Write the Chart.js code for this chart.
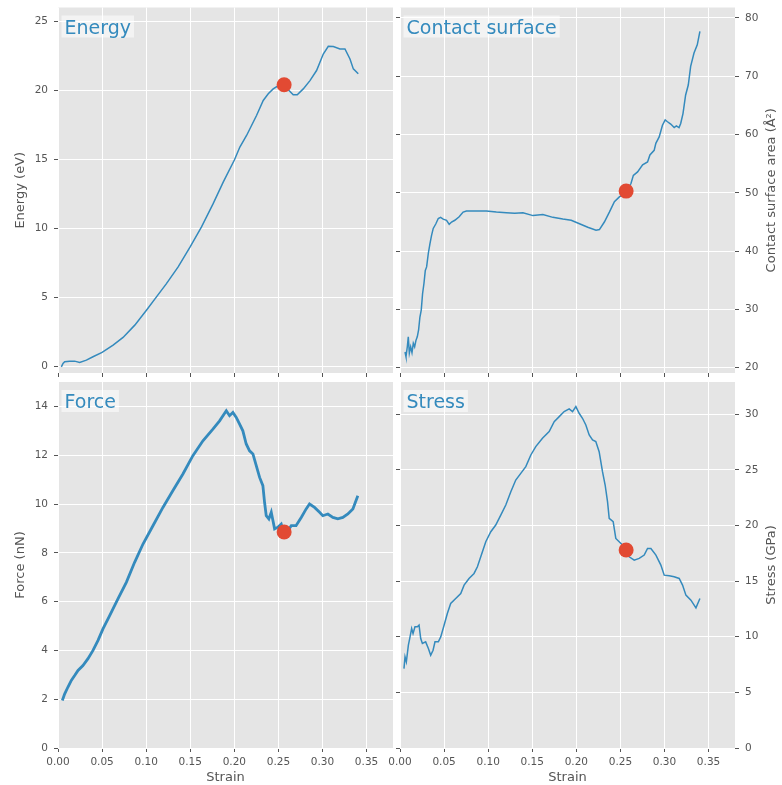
<!DOCTYPE html>
<html>
<head>
<meta charset="utf-8">
<script src="https://cdn.jsdelivr.net/npm/chart.js@4.4.1/dist/chart.umd.min.js"></script>
<style>
  html, body { margin: 0; padding: 0; background: #fff; }
  #wrap { position: relative; width: 782px; height: 785px; }
  #wrap canvas { position: absolute; left: 0; top: 0; }
</style>
</head>
<body>
<div id="wrap">
  <canvas id="cEnergy" width="782" height="785"></canvas>
  <canvas id="cContact" width="782" height="785"></canvas>
  <canvas id="cForce" width="782" height="785"></canvas>
  <canvas id="cStress" width="782" height="785"></canvas>
</div>
<script>
// --- data ---
const energyStrain = [0.0038,0.0057,0.0076,0.0132,0.0189,0.0246,0.0322,0.0397,0.05,0.0625,0.0738,0.0871,0.1003,0.1117,0.123,0.1363,0.1499,0.1628,0.176,0.1874,0.2002,0.2063,0.2139,0.2252,0.2328,0.2385,0.2441,0.2502,0.2555,0.2612,0.2668,0.2714,0.2782,0.2858,0.2933,0.3009,0.3066,0.3123,0.3198,0.3255,0.3312,0.335,0.3406];
const energyValues = [-0.05,0.19,0.31,0.36,0.36,0.27,0.43,0.68,0.99,1.52,2.08,2.97,4.05,5.02,5.98,7.19,8.64,10.09,11.78,13.34,14.96,15.88,16.72,18.17,19.26,19.74,20.10,20.34,20.34,20.03,19.67,19.67,20.10,20.70,21.43,22.63,23.19,23.17,23.00,23.00,22.27,21.55,21.19];

const contactStrain = [0.0057,0.0068,0.0083,0.0094,0.0106,0.0121,0.0136,0.0151,0.0166,0.0181,0.0196,0.0211,0.0226,0.0241,0.0256,0.0272,0.0287,0.0302,0.0321,0.034,0.0358,0.0377,0.0407,0.0434,0.046,0.049,0.0528,0.0558,0.0585,0.0622,0.0671,0.0716,0.0754,0.0867,0.098,0.1093,0.1206,0.1301,0.1395,0.1508,0.1621,0.1734,0.1847,0.1942,0.2036,0.213,0.2224,0.2262,0.2318,0.2375,0.2432,0.2488,0.2555,0.262,0.2647,0.2695,0.2752,0.2808,0.2835,0.2883,0.2902,0.294,0.2977,0.3008,0.3034,0.3071,0.311,0.3135,0.3165,0.3184,0.321,0.324,0.327,0.3297,0.3335,0.3372,0.3402];
const contactValues = [22.7,21.9,23.6,25.3,22.5,23.6,22.6,24.2,23.6,24.7,25.3,26.5,28.7,29.9,32.7,34.5,36.7,37.3,39.6,41.3,42.7,43.9,44.7,45.6,45.8,45.5,45.3,44.6,45.0,45.3,45.9,46.7,46.9,46.9,46.9,46.7,46.6,46.5,46.6,46.1,46.3,45.8,45.5,45.3,44.7,44.1,43.6,43.7,45.0,46.7,48.5,49.3,49.9,51.6,53.0,53.6,54.8,55.3,56.5,57.3,58.5,59.6,61.6,62.5,62.2,61.8,61.2,61.5,61.2,61.9,63.6,66.8,68.5,71.7,74.0,75.4,77.7];

const forceStrain = [0.0049,0.0076,0.0113,0.0151,0.0189,0.0227,0.0283,0.034,0.0397,0.0454,0.051,0.0586,0.068,0.0775,0.0869,0.0964,0.1077,0.119,0.1304,0.1417,0.153,0.1644,0.1757,0.1833,0.1909,0.1946,0.1984,0.2022,0.206,0.2097,0.2135,0.2173,0.2211,0.2249,0.2287,0.2324,0.2343,0.2362,0.2392,0.2419,0.2438,0.2457,0.2494,0.2532,0.256,0.2608,0.2646,0.27,0.2759,0.2815,0.2853,0.291,0.2967,0.3004,0.3061,0.3118,0.3174,0.3231,0.3288,0.3345,0.3401];
const forceValues = [1.95,2.22,2.50,2.77,2.97,3.18,3.38,3.66,4.0,4.41,4.88,5.43,6.11,6.79,7.61,8.36,9.11,9.86,10.55,11.23,11.98,12.59,13.07,13.41,13.82,13.62,13.75,13.55,13.27,13.0,12.46,12.18,12.05,11.57,11.09,10.75,10.07,9.52,9.39,9.66,9.32,8.98,9.05,9.18,8.84,8.91,9.11,9.11,9.45,9.80,10.0,9.86,9.66,9.52,9.59,9.45,9.39,9.45,9.59,9.80,10.34];

const stressStrain = [0.0045,0.0057,0.0072,0.0095,0.011,0.0132,0.0148,0.017,0.0197,0.0216,0.0235,0.0254,0.0291,0.0322,0.0348,0.0375,0.0397,0.0435,0.0462,0.05,0.0537,0.0575,0.0632,0.0689,0.0727,0.0783,0.084,0.0878,0.0935,0.0973,0.103,0.1086,0.1143,0.12,0.1257,0.1313,0.137,0.1427,0.1484,0.154,0.1616,0.1692,0.1749,0.1806,0.1862,0.1919,0.1957,0.1995,0.2032,0.207,0.2108,0.2146,0.2184,0.2221,0.2259,0.2297,0.2327,0.2354,0.2373,0.2418,0.2448,0.2486,0.2524,0.2562,0.26,0.2657,0.2713,0.277,0.2808,0.2846,0.2903,0.2959,0.2997,0.3054,0.311,0.3167,0.3205,0.3243,0.33,0.3357,0.3402];
const stressValues = [7.14,8.19,7.74,9.24,9.84,10.74,10.29,10.89,10.89,11.04,9.84,9.39,9.54,8.94,8.34,8.79,9.54,9.54,9.99,11.04,12.09,12.99,13.44,13.89,14.64,15.24,15.69,16.29,17.64,18.54,19.44,20.04,20.94,21.84,23.04,24.09,24.69,25.29,26.34,27.09,27.84,28.44,29.34,29.79,30.24,30.48,30.24,30.69,30.09,29.64,29.04,28.14,27.69,27.54,26.64,24.84,23.64,22.14,20.64,20.34,18.84,18.54,18.24,17.79,17.19,16.89,17.04,17.34,17.94,17.94,17.34,16.44,15.54,15.48,15.39,15.24,14.64,13.74,13.29,12.6,13.44];

// current frame marker: energy, contact, force, stress
const markerStrain = 0.2565;
const markerValues = [20.4, 50.3, 8.85, 17.8];

// tick labels
const strainTicks = [0, 0.05, 0.10, 0.15, 0.20, 0.25, 0.30, 0.35];
const energyTicks = [0, 5, 10, 15, 20, 25];
const contactTicks = [20, 30, 40, 50, 60, 70, 80];
const forceTicks = [0, 2, 4, 6, 8, 10, 12, 14];
const stressTicks = [0, 5, 10, 15, 20, 25, 30];

const panelTitles = ['Energy', 'Contact surface', 'Force', 'Stress'];
const yTitles = ['Energy (eV)', 'Contact surface area (Å²)', 'Force (nN)', 'Stress (GPa)'];
const xTitle = 'Strain';

// --- style ---
const W = 782, H = 785;
const FONT = '"DejaVu Sans", "Liberation Sans", sans-serif';
const BLUE = '#348ABD';
const RED = '#E24A33';
const GREY = '#555555';

const toPoints = (xs, ys) => xs.map((x, i) => ({ x: x, y: ys[i] }));

// fix a scale's box size so the plot area lands where we want it
const fixSize = size => scale => {
    if (scale.isHorizontal()) scale.height = size; else scale.width = size;
    scale.paddingLeft = scale.paddingRight = scale.paddingTop = scale.paddingBottom = 0;
};
const useTicks = arr => scale => { scale.ticks = arr.map(v => ({ value: v })); };

// grey panel, boxed panel title, right-hand axis title
const panelPlugin = {
    id: 'panel',
    beforeDraw(chart) {
        const { ctx, chartArea: a } = chart;
        ctx.save();
        ctx.fillStyle = '#E5E5E5';
        ctx.fillRect(a.left, a.top, a.right - a.left, a.bottom - a.top);
        ctx.restore();
    },
    afterDraw(chart, args, opts) {
        const { ctx, chartArea: a } = chart;
        ctx.save();
        ctx.font = '19px ' + FONT;
        const tw = ctx.measureText(opts.title).width;
        ctx.fillStyle = 'rgba(255,255,255,0.55)';
        ctx.fillRect(a.left + 3.5, a.top + 8, tw + 6, 22);
        ctx.fillStyle = BLUE;
        ctx.textBaseline = 'alphabetic';
        ctx.fillText(opts.title, a.left + 6.5, a.top + 26);
        if (opts.rightTitle) {
            ctx.translate(772, (a.top + a.bottom) / 2);
            ctx.rotate(-Math.PI / 2);
            ctx.font = '13px ' + FONT;
            ctx.fillStyle = GREY;
            ctx.textAlign = 'center';
            ctx.textBaseline = 'middle';
            ctx.fillText(opts.rightTitle, 0, 0);
        }
        ctx.restore();
    }
};

function makePanel(id, cfg) {
    const [left, top, right, bottom] = cfg.area;
    const onRight = cfg.side === 'right';
    const xBox = cfg.showX ? H - bottom : 5;
    const tickFont = { family: FONT, size: 10.5 };

    const scales = {
        x: {
            type: 'linear',
            min: 0, max: 0.38,
            afterBuildTicks: useTicks(strainTicks),
            afterFit: fixSize(xBox),
            border: { display: false },
            grid: { color: '#FFFFFF', lineWidth: 1, tickColor: GREY, tickLength: 4 },
            ticks: {
                display: cfg.showX, color: GREY, font: tickFont, padding: 4,
                autoSkip: false, maxRotation: 0,
                callback: v => v.toFixed(2)
            },
            title: {
                display: cfg.showX, text: xTitle, color: GREY,
                font: { family: FONT, size: 13, lineHeight: 1 },
                padding: { top: 0, bottom: 1 }
            }
        },
        y: {
            type: 'linear',
            position: onRight ? 'right' : 'left',
            min: cfg.yMin, max: cfg.yMax,
            afterBuildTicks: useTicks(cfg.yTicks),
            afterFit: fixSize(onRight ? W - right : left),
            border: { display: false },
            grid: { color: '#FFFFFF', lineWidth: 1, tickColor: GREY, tickLength: 4 },
            ticks: { color: GREY, font: tickFont, padding: 6, callback: v => String(v) },
            title: {
                display: !onRight, text: cfg.yTitle, color: GREY,
                font: { family: FONT, size: 13, lineHeight: 1 },
                padding: { top: 14, bottom: 0 }
            }
        }
    };
    if (onRight) {
        // tick marks only on the left edge of the right-hand panels
        scales.yL = {
            type: 'linear', position: 'left',
            min: cfg.yMin, max: cfg.yMax,
            afterBuildTicks: useTicks(cfg.yTicks),
            afterFit: fixSize(5),
            border: { display: false },
            grid: { drawOnChartArea: false, tickColor: GREY, tickLength: 4 },
            ticks: { display: false }
        };
    }

    return new Chart(document.getElementById(id), {
        type: 'scatter',
        data: {
            datasets: [
                {
                    data: [{ x: markerStrain, y: cfg.marker }],
                    pointRadius: 7.5, pointBackgroundColor: RED, pointBorderWidth: 0,
                    order: 0
                },
                {
                    data: toPoints(cfg.xs, cfg.ys),
                    showLine: true, borderColor: BLUE, borderWidth: cfg.lineWidth || 1.5,
                    pointRadius: 0, tension: 0,
                    order: 1
                }
            ]
        },
        options: {
            responsive: false,
            animation: false,
            events: [],
            layout: {
                padding: {
                    left: onRight ? left - 5 : 0,
                    right: onRight ? 0 : W - right,
                    top: top,
                    bottom: H - bottom - xBox
                }
            },
            plugins: {
                legend: { display: false },
                tooltip: { enabled: false },
                panel: { title: cfg.title, rightTitle: onRight ? cfg.yTitle : null }
            },
            scales: scales
        },
        plugins: [panelPlugin]
    });
}

makePanel('cEnergy', {
    area: [58, 7, 393, 373], side: 'left', showX: false,
    xs: energyStrain, ys: energyValues, marker: markerValues[0],
    yMin: -0.5, yMax: 26, yTicks: energyTicks,
    title: panelTitles[0], yTitle: yTitles[0]
});
makePanel('cContact', {
    area: [400, 7, 735, 373], side: 'right', showX: false,
    xs: contactStrain, ys: contactValues, marker: markerValues[1],
    yMin: 19.1, yMax: 81.8, yTicks: contactTicks,
    title: panelTitles[1], yTitle: yTitles[1]
});
makePanel('cForce', {
    area: [58, 382, 393, 748], side: 'left', showX: true,
    xs: forceStrain, ys: forceValues, marker: markerValues[2], lineWidth: 2.8,
    yMin: 0, yMax: 15, yTicks: forceTicks,
    title: panelTitles[2], yTitle: yTitles[2]
});
makePanel('cStress', {
    area: [400, 382, 735, 748], side: 'right', showX: true,
    xs: stressStrain, ys: stressValues, marker: markerValues[3],
    yMin: 0, yMax: 32.9, yTicks: stressTicks,
    title: panelTitles[3], yTitle: yTitles[3]
});
</script>
</body>
</html>
